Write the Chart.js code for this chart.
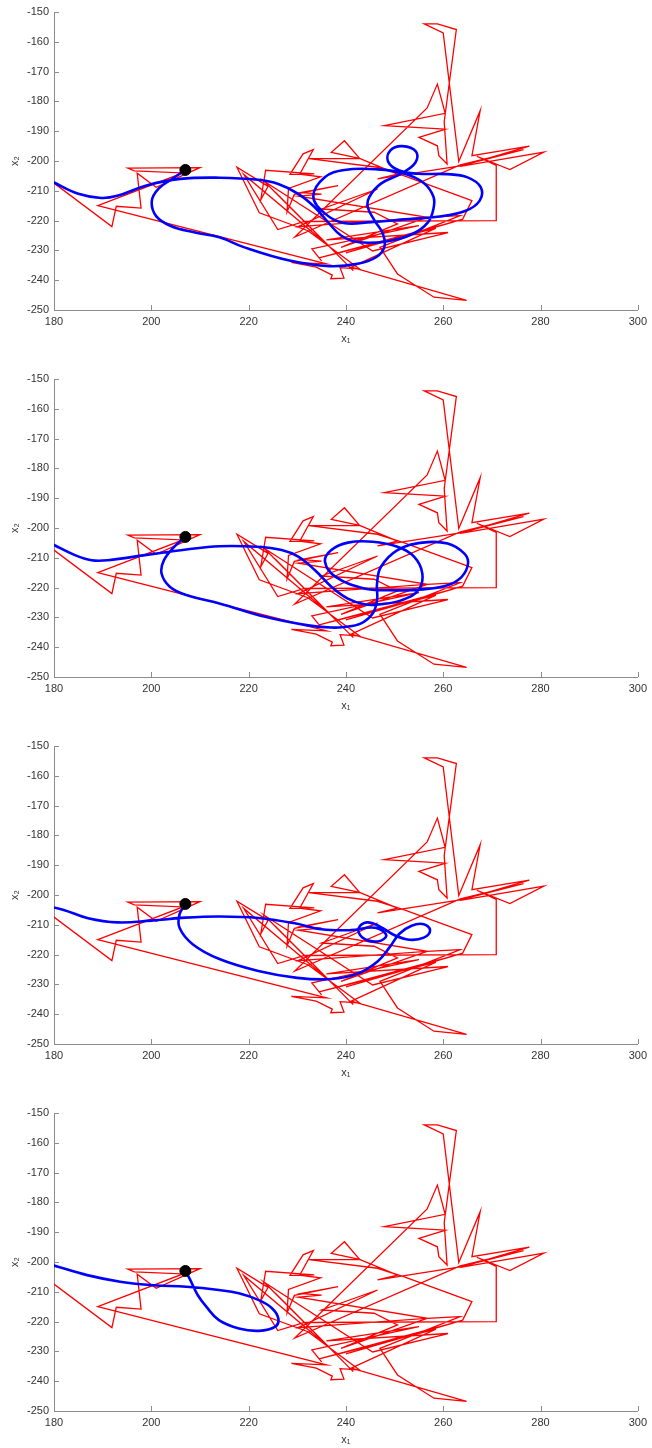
<!DOCTYPE html>
<html><head><meta charset="utf-8">
<script src="https://cdn.jsdelivr.net/npm/chart.js@4.4.0/dist/chart.umd.min.js"></script>
<style>
html,body{margin:0;padding:0;background:#fff;}
#wrap{position:relative;width:652px;height:1448px;overflow:hidden;}
canvas{position:absolute;left:0;}
</style></head><body><div id="wrap">
<canvas id="c0" width="652" height="367" style="top:0px"></canvas>
<canvas id="c1" width="652" height="367" style="top:367px"></canvas>
<canvas id="c2" width="652" height="367" style="top:734px"></canvas>
<canvas id="c3" width="652" height="367" style="top:1101px"></canvas>
</div>
<script>
const xTicks = [180, 200, 220, 240, 260, 280, 300];
const yTicks = [-250, -240, -230, -220, -210, -200, -190, -180, -170, -160, -150];
const xLabel = 'x₁';
const yLabel = 'x₂';
const startPoint = [207, -203];

const redPath = [
 [179,-206.2],[191.9,-222],[192.8,-215.2],[197.9,-215.8],[197.1,-204.1],[201,-208.8],[210,-202.2],[195.2,-202.4],[196.5,-203.3],[206.5,-204],[189,-215],
 [236,-234.5],[228.8,-234],[233.9,-235.6],[237.2,-238.3],[236.9,-239.5],[239.6,-239.3],[238.8,-235.8],[242.8,-236.2],[232.2,-223.4],
 [222.2,-217.4],[217.6,-202.1],[224,-208.5],[222.5,-213],[223.5,-203.1],[233.5,-204.3],[228.5,-204.5],[231.2,-197.6],[233.3,-196.2],[230.5,-204.4],[234.8,-205.3],
 [228.2,-209.2],[227.9,-217.1],[229.4,-211.2],[238.4,-208.3],[230.8,-210.6],[235,-211.1],[230.2,-211.8],
 [256.7,-218.9],[230.2,-222],[246.5,-209.4],[235,-216.1],[245.8,-217.2],[250.6,-221.1],[239,-229],[256.7,-218.9],
 [263.5,-218.3],[247,-229],[250.6,-237.9],[258.1,-245.7],[264.8,-246.8],[241.1,-235.6],
 [258.5,-222.5],[234.5,-232.5],[262,-220.5],[240,-230.8],[264,-219.5],
 [265.9,-213.3],[252,-205],[246.5,-202.1],[232.4,-199.2],[242.8,-199.1],[239.7,-193.2],[237,-197.1],[242.8,-199.1],[250.6,-204.4],
 [246.5,-206],[263.5,-201.6],[276.5,-196.2],
 [263.5,-201.3],[229.5,-225.5],[256.7,-182.2],[258.8,-174.2],[260.4,-184],[247.9,-188.1],[260.5,-189.3],[255,-192.1],[258.8,-194.9],[259.1,-198.2],[260.8,-201],
 [260.2,-186.8],[262.7,-155.9],[258.8,-154],[256.1,-154],[260,-157],[263.2,-200.2],[267.6,-183.1],[265.9,-198.2],[277.7,-195],[263.5,-201.8],[280.7,-197],[273.7,-202.9],[266.9,-198.4],[270.9,-201.5],[270.9,-220],[231.5,-220.3],
 [226,-223],[219,-204.5],[236.5,-228.5],[225.5,-210.5],[241.5,-236.8],[223.2,-206.8],[245.5,-230.2],[261,-224],[236,-226.5],[255,-221.7],[233,-229.5],[235,-233.5]
];

const blue1 = [
 [207,-203],[204.5,-205.8],[201.5,-209.3],[200.1,-213.5],[201,-218.5],[204,-221.8],[209,-224],[214,-225.6],[219,-228.9],[228.4,-233.4],[236.6,-235.3],[242.4,-234.5],[246.2,-232.3],[247.9,-228.9],[247.6,-224.4],[245.9,-220],[244.5,-215.5],[244.8,-212.1],[247.2,-207.6],[251.4,-204.2],[254.3,-200.5],[254.4,-196.8],[251.6,-195],[249.1,-196.5],[248.7,-200.3],[251,-203.2],[255,-204.3],[260.8,-204.4],[265,-205.5],[267.7,-208.8],[267.5,-213.3],[264.5,-216.8],[258.8,-218.7],[252,-219.6],[245.2,-220.5],[239.5,-220.8],[235.6,-217.5],[233.3,-211.8],[235.6,-205.5],[239.7,-203],[246.5,-202.8],[252,-204.2],[256,-207.4],[258,-212],[258,-216],[256.9,-220.5],[253.8,-224.4],[248.6,-226.9],[242.4,-227.2],[239,-225],[236.3,-220.5],[233.6,-215.5],[230.2,-211],[226.1,-207.7],[222,-206.3],[214,-205.6],[206,-206],[199,-208.2],[193,-211.7],[189.7,-212.4],[185,-211],[180,-207.2],[178,-205.5]
];

const blue2 = [
 [207,-203],[204.7,-206.3],[202.6,-210.8],[202.1,-215.2],[203.8,-219.7],[207.2,-222.5],[214,-225.3],[223.4,-229.8],[231.9,-232.6],[237,-233.4],[239.6,-233.2],[243,-232.1],[245.5,-228.7],[246.4,-224.2],[246.4,-218.6],[247.2,-213],[250.6,-207.4],[255.7,-204.9],[260.9,-205.2],[264.3,-208.5],[265.1,-211.9],[263.8,-216.4],[260.9,-219.2],[255.7,-220.6],[248.9,-220.9],[243.8,-220.3],[237.9,-216.4],[235.7,-211.3],[237,-207.4],[240.4,-204.9],[245.5,-204.6],[250.6,-206.3],[254,-209.6],[255.7,-215.2],[254.9,-220.9],[251.5,-224.2],[247.2,-225.6],[243.8,-225.6],[240.4,-223.7],[237,-219.7],[233.6,-214.1],[230.2,-209.6],[226.8,-207.4],[221.7,-206.3],[214,-206.1],[207.2,-207.2],[198.7,-209.1],[191.1,-210.8],[187.7,-210.8],[184.3,-209.1],[180,-205.7],[178,-204]
];

const blue3 = [
 [207,-203],[205.8,-206.5],[205.8,-211],[208.5,-216.5],[214,-221.5],[222,-225.5],[230,-227.8],[237,-228.2],[242.5,-226.3],[246.5,-222.3],[249,-217.5],[251,-213],[253.5,-210.3],[256,-209.8],[257.3,-211.8],[256,-214.3],[253,-215],[250,-213.5],[247,-210.6],[244.3,-209.2],[242.6,-211.2],[243.4,-214.3],[246.5,-215.6],[248.3,-213.6],[246,-211],[241,-211.8],[235,-211.5],[229.5,-209.5],[222,-207.7],[214,-207.2],[207,-207.6],[200,-208.6],[193,-209.2],[187,-207.8],[182,-205],[178,-203.5]
];

const blue4 = [
 [207,-203],[208,-206],[209.5,-211],[211.3,-215],[213.9,-219.5],[218,-222.3],[222.1,-223.1],[225.5,-221.7],[226.1,-218.9],[224.8,-215.5],[222.1,-212.8],[218,-210.5],[213.9,-209.4],[207.2,-208.3],[200.4,-207.8],[193.6,-206.6],[186.8,-204.4],[180,-201.2],[178,-200.3]
];

const blues = [blue1, blue2, blue3, blue4];
const FONT = 'Liberation Sans, Arial, Helvetica, sans-serif';

const tickPlugin = {
  id: 'inwardTicks',
  afterDatasetsDraw(chart) {
    const {ctx, chartArea: a, scales: {x, y}} = chart;
    ctx.save();
    ctx.strokeStyle = '#8c8c8c';
    ctx.lineWidth = 1;
    ctx.beginPath();
    xTicks.forEach(v => {
      const px = Math.round(x.getPixelForValue(v)) + 0.5;
      ctx.moveTo(px, a.bottom); ctx.lineTo(px, a.bottom - 5);
    });
    yTicks.forEach(v => {
      const py = Math.round(y.getPixelForValue(v)) + 0.5;
      ctx.moveTo(a.left, py); ctx.lineTo(a.left + 5, py);
    });
    ctx.stroke();
    ctx.restore();
  }
};

function pts(arr) { return arr.map(p => ({x: p[0], y: p[1]})); }

blues.forEach((b, i) => {
  new Chart(document.getElementById('c' + i), {
    type: 'scatter',
    data: {
      datasets: [
        {data: pts(redPath), showLine: true, borderColor: '#ff0000', borderWidth: 1.3, pointRadius: 0, tension: 0, order: 3},
        {data: pts(b), showLine: true, borderColor: '#0000ff', borderWidth: 2.6, pointRadius: 0, tension: 0.4, order: 2},
        {data: [{x: startPoint[0], y: startPoint[1]}], pointRadius: 5.5, pointBackgroundColor: '#000', pointBorderColor: '#000', order: 1}
      ]
    },
    options: {
      responsive: false,
      animation: false,
      events: [],
      layout: {padding: {top: 12, right: 11, left: 0, bottom: 0}},
      plugins: {legend: {display: false}, tooltip: {enabled: false}},
      scales: {
        x: {
          type: 'linear', min: 180, max: 300,
          afterBuildTicks(s) { s.ticks = xTicks.map(v => ({value: v})); },
          ticks: {color: '#333', font: {family: FONT, size: 11}, padding: 5},
          grid: {display: true, drawOnChartArea: false, drawTicks: false, color: '#8c8c8c'},
          border: {display: true, color: '#8c8c8c', width: 1},
          title: {display: true, text: xLabel, color: '#333', font: {family: FONT, size: 11}, padding: {top: 0, bottom: 21}},
          afterFit(s) { s.height = 57; }
        },
        y: {
          type: 'linear', min: -250, max: -150,
          afterBuildTicks(s) { s.ticks = yTicks.map(v => ({value: v})); },
          ticks: {color: '#333', font: {family: FONT, size: 11}, padding: 5},
          grid: {display: true, drawOnChartArea: false, drawTicks: false, color: '#8c8c8c'},
          border: {display: true, color: '#8c8c8c', width: 1},
          title: {display: true, text: yLabel, color: '#333', font: {family: FONT, size: 11}, padding: {top: 8, bottom: 0}},
          afterFit(s) { s.width = 54; }
        }
      }
    },
    plugins: [tickPlugin]
  });
});
</script>
</body></html>
